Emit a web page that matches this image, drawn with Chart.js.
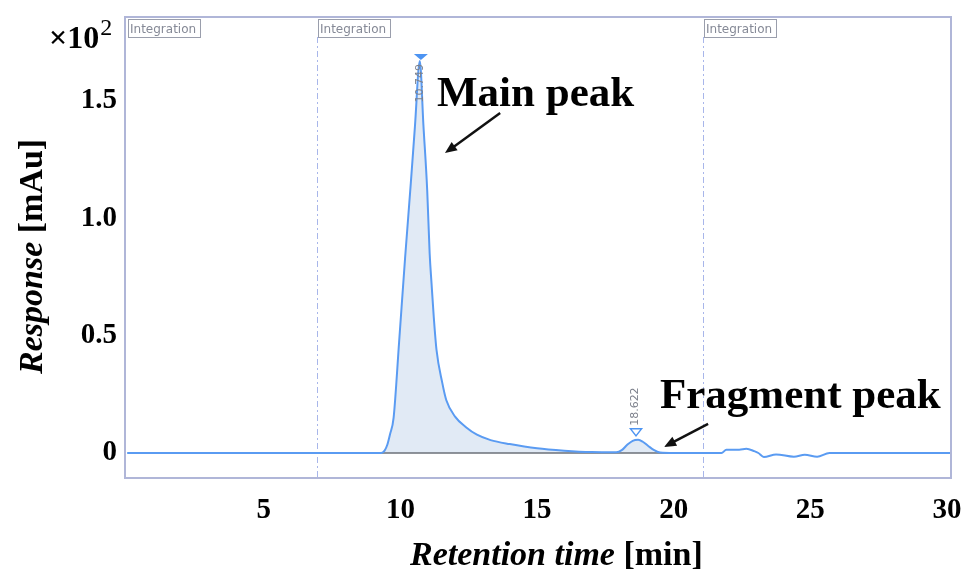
<!DOCTYPE html>
<html>
<head>
<meta charset="utf-8">
<script src="https://cdn.jsdelivr.net/npm/chart.js@4.4.0/dist/chart.umd.min.js"></script>
<style>
html, body { margin: 0; padding: 0; background: #fff; }
#wrap { position: relative; width: 962px; height: 570px; }
</style>
</head>
<body>
<div id="wrap"><canvas id="chromChart" width="962" height="570"></canvas></div>
<script>
// Chromatogram: retention time (min) vs response (x10^2 mAu)
const retentionTimes = [0, 9.3, 9.42, 9.52, 9.62, 9.75, 9.95, 10.17, 10.38, 10.53, 10.71, 10.84, 10.98, 11.07, 11.14,
    11.22, 11.32, 11.53, 11.68, 12.0, 12.4, 12.8, 13.3, 14.0, 15.0, 16.0, 17.0, 17.9, 18.1, 18.3, 18.5, 18.7,
    18.87, 19.07, 19.27, 19.5, 20.0, 21.75, 21.93, 22.4, 22.66, 22.95, 23.1, 23.3, 23.75, 24.4, 24.8, 25.25, 25.7, 30.15];
const responses = [0, 0, 0.01, 0.035, 0.08, 0.15, 0.47, 0.83, 1.15, 1.39, 1.67, 1.40, 1.12, 0.85, 0.72,
    0.58, 0.44, 0.30, 0.225, 0.155, 0.11, 0.078, 0.055, 0.038, 0.02, 0.01, 0.004, 0.003, 0.012, 0.035, 0.052, 0.056,
    0.048, 0.03, 0.013, 0.002, 0, 0, 0.014, 0.014, 0.018, 0.008, 0, -0.017, -0.006, -0.016, -0.007, -0.016, 0, 0];

const xTicks = [5, 10, 15, 20, 25, 30];
const yTicks = [0, 0.5, 1.0, 1.5];
const yTickLabels = ['0', '0.5', '1.0', '1.5'];

// détection des pics
const peakTimes = [10.749, 18.622];
const peakLabels = ['10.749', '18.622'];
// début des fenêtres d'intégration
const integrationStarts = [0, 6.94, 21.07];
// ligne de base de l'intégration
const baselineRange = [9.3, 20.2];

const serif = "'Liberation Serif', 'Times New Roman', serif";
const sans = "'DejaVu Sans', sans-serif";

const tracePoints = retentionTimes.map((t, i) => ({ x: t, y: responses[i] }));
const fillPoints = tracePoints.filter(p => p.x >= baselineRange[0] && p.x <= baselineRange[1]);
const baselinePoints = baselineRange.map(t => ({ x: t, y: 0 }));

function peakHeight(t) {
    let best = 0;
    tracePoints.forEach(p => {
        if (Math.abs(p.x - t) < 0.35 && p.y > best) best = p.y;
    });
    return best;
}

function drawArrow(ctx, x1, y1, x2, y2) {
    const ang = Math.atan2(y2 - y1, x2 - x1);
    const len = 13;
    ctx.save();
    ctx.strokeStyle = '#111';
    ctx.fillStyle = '#111';
    ctx.lineWidth = 2.5;
    ctx.beginPath();
    ctx.moveTo(x1, y1);
    ctx.lineTo(x2 - Math.cos(ang) * 8, y2 - Math.sin(ang) * 8);
    ctx.stroke();
    ctx.beginPath();
    ctx.moveTo(x2, y2);
    ctx.lineTo(x2 - len * Math.cos(ang - 0.4), y2 - len * Math.sin(ang - 0.4));
    ctx.lineTo(x2 - len * Math.cos(ang + 0.4), y2 - len * Math.sin(ang + 0.4));
    ctx.closePath();
    ctx.fill();
    ctx.restore();
}

// pas de marge automatique pour les étiquettes
function noPadding(scale) {
    scale.paddingLeft = 0;
    scale.paddingRight = 0;
    scale.paddingTop = 0;
    scale.paddingBottom = 0;
}

const overlay = {
    id: 'overlay',
    beforeDatasetsDraw(chart) {
        const { ctx, chartArea: a, scales: { x } } = chart;
        ctx.save();
        // lignes pointillées des fenêtres d'intégration
        ctx.strokeStyle = '#a8b6ea';
        ctx.lineWidth = 1;
        ctx.setLineDash([6, 3, 2, 3]);
        integrationStarts.forEach(t => {
            if (t <= 0) return;
            const px = Math.round(x.getPixelForValue(t)) + 0.5;
            ctx.beginPath();
            ctx.moveTo(px, a.top + 20);
            ctx.lineTo(px, a.bottom);
            ctx.stroke();
        });
        ctx.restore();
    },
    afterDraw(chart) {
        const { ctx, chartArea: a, scales: { x, y } } = chart;
        ctx.save();

        // cadre
        ctx.strokeStyle = '#b0b6d8';
        ctx.lineWidth = 2;
        ctx.strokeRect(a.left, a.top, a.right - a.left, a.bottom - a.top);

        // boîtes "Integration"
        ctx.font = '12px ' + sans;
        ctx.textBaseline = 'alphabetic';
        ctx.textAlign = 'left';
        integrationStarts.forEach(t => {
            const px = Math.round(x.getPixelForValue(t));
            ctx.fillStyle = '#fff';
            ctx.fillRect(px + 1, a.top + 2, 72, 18);
            ctx.strokeStyle = '#9a9eac';
            ctx.lineWidth = 1;
            ctx.strokeRect(px + 1.5, a.top + 2.5, 72, 18);
            ctx.fillStyle = '#858996';
            ctx.fillText('Integration', px + 3, a.top + 16);
        });

        // marqueurs et étiquettes des pics
        ctx.font = '11px ' + sans;
        peakTimes.forEach((t, i) => {
            const px = x.getPixelForValue(t);
            const py = y.getPixelForValue(peakHeight(t));
            ctx.strokeStyle = '#4d94f2';
            ctx.fillStyle = '#4d94f2';
            ctx.lineWidth = 1.5;
            let labelTop;
            if (i === 0) {
                const b = py - 1;
                ctx.beginPath();
                ctx.moveTo(px - 7, b - 6);
                ctx.lineTo(px + 7, b - 6);
                ctx.lineTo(px, b);
                ctx.closePath();
                ctx.fill();
                labelTop = b + 4;
            } else {
                const b = py - 4;
                ctx.beginPath();
                ctx.moveTo(px - 5.5, b - 7);
                ctx.lineTo(px + 5.5, b - 7);
                ctx.lineTo(px, b);
                ctx.closePath();
                ctx.stroke();
                labelTop = b - 10 - ctx.measureText(peakLabels[i]).width;
            }
            ctx.save();
            ctx.fillStyle = '#7d818c';
            ctx.translate(px - 1, labelTop);
            ctx.rotate(-Math.PI / 2);
            ctx.textAlign = 'right';
            ctx.textBaseline = 'middle';
            ctx.fillText(peakLabels[i], 0, 0);
            ctx.restore();
        });

        // annotations
        ctx.fillStyle = '#000';
        ctx.font = 'bold 43px ' + serif;
        ctx.textAlign = 'left';
        ctx.textBaseline = 'alphabetic';
        ctx.fillText('Main peak', x.getPixelForValue(11.34), y.getPixelForValue(1.48));
        ctx.fillText('Fragment peak', x.getPixelForValue(19.5), y.getPixelForValue(0.19));
        drawArrow(ctx, x.getPixelForValue(13.65), y.getPixelForValue(1.449), x.getPixelForValue(11.63), y.getPixelForValue(1.278));
        drawArrow(ctx, x.getPixelForValue(21.26), y.getPixelForValue(0.124), x.getPixelForValue(19.65), y.getPixelForValue(0.026));

        // facteur d'échelle
        ctx.font = 'bold 32px ' + serif;
        ctx.fillText('\u00d710', 49, 48);
        const w10 = ctx.measureText('\u00d710').width;
        ctx.font = '24px ' + serif;
        ctx.fillText('2', 49 + w10 + 1, 35);

        // titre axe X
        ctx.font = 'italic bold 34px ' + serif;
        ctx.fillText('Retention time', 410, 565);
        const wx = ctx.measureText('Retention time').width;
        ctx.font = 'bold 34px ' + serif;
        ctx.fillText(' [min]', 410 + wx, 565);

        // titre axe Y
        ctx.save();
        ctx.translate(42, 374);
        ctx.rotate(-Math.PI / 2);
        ctx.font = 'italic bold 34px ' + serif;
        ctx.fillText('Response', 0, 0);
        const wy = ctx.measureText('Response').width;
        ctx.font = 'bold 34px ' + serif;
        ctx.fillText(' [mAu]', wy, 0);
        ctx.restore();

        ctx.restore();
    }
};

const ctx = document.getElementById('chromChart').getContext('2d');
new Chart(ctx, {
    type: 'scatter',
    data: {
        datasets: [
            {
                label: 'Response',
                data: tracePoints,
                showLine: true,
                borderColor: '#5a9bf2',
                borderWidth: 2,
                pointRadius: 0,
                cubicInterpolationMode: 'monotone',
                fill: false
            },
            {
                label: 'Baseline',
                data: baselinePoints,
                showLine: true,
                borderColor: '#6b7079',
                borderWidth: 1.5,
                pointRadius: 0,
                fill: false
            },
            {
                label: 'Area',
                data: fillPoints,
                showLine: true,
                borderWidth: 0,
                borderColor: 'rgba(0,0,0,0)',
                backgroundColor: '#e1eaf5',
                pointRadius: 0,
                cubicInterpolationMode: 'monotone',
                fill: 'origin'
            }
        ]
    },
    options: {
        responsive: false,
        animation: false,
        devicePixelRatio: 1,
        layout: { padding: { top: 17, right: 11, left: 0, bottom: 0 } },
        plugins: {
            legend: { display: false },
            tooltip: { enabled: false }
        },
        scales: {
            x: {
                type: 'linear',
                min: -0.08,
                max: 30.15,
                afterBuildTicks: scale => { scale.ticks = xTicks.map(v => ({ value: v })); },
                afterFit: scale => { scale.height = 92; noPadding(scale); },
                grid: { display: false, drawTicks: false },
                border: { display: false },
                ticks: {
                    padding: 15,
                    color: '#000',
                    font: { family: serif, size: 29, weight: 'bold' },
                    maxRotation: 0,
                    callback: v => String(v)
                }
            },
            y: {
                min: -0.1065,
                max: 1.858,
                afterBuildTicks: scale => { scale.ticks = yTicks.map(v => ({ value: v })); },
                afterFit: scale => { scale.width = 125; noPadding(scale); },
                grid: { display: false, drawTicks: false },
                border: { display: false },
                ticks: {
                    padding: 8,
                    color: '#000',
                    font: { family: serif, size: 29, weight: 'bold' },
                    callback: v => yTickLabels[yTicks.indexOf(v)]
                }
            }
        }
    },
    plugins: [overlay]
});
</script>
</body>
</html>
